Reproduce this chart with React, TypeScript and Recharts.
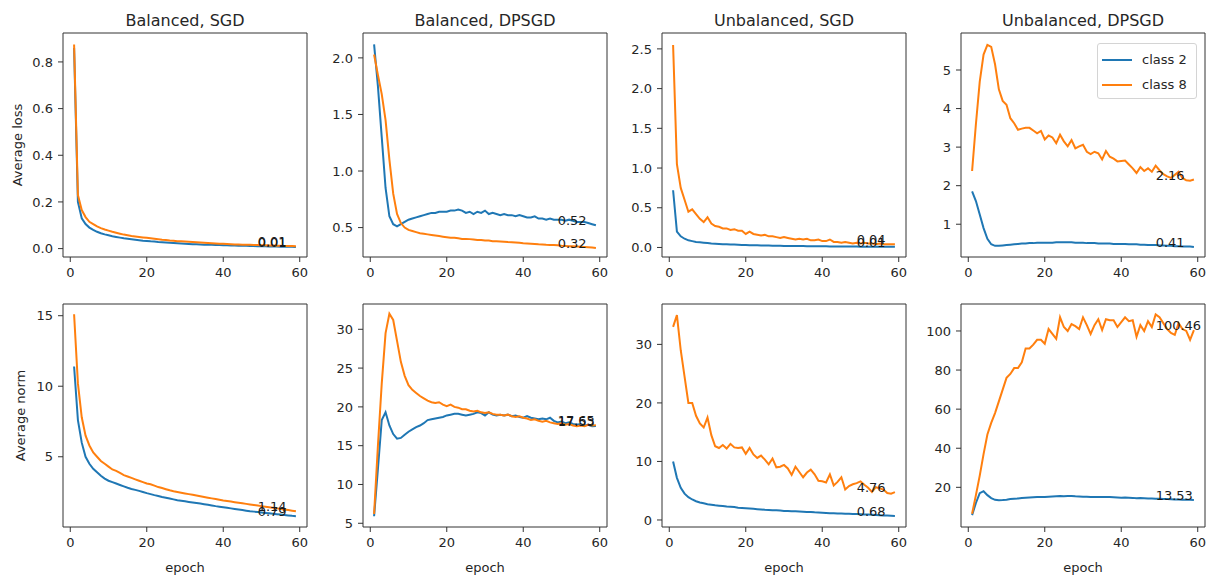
import React from 'react';
import { ComposedChart, Line, XAxis, YAxis, ReferenceArea, ReferenceDot, Legend } from 'recharts';

// epochs 1..59 on the x axis
const epochs = Array.from({ length: 59 }, (_, i) => i + 1);
const xTicks = [0, 20, 40, 60];

// ---- Average loss ----
const lossBalSgd2 = [0.86, 0.2, 0.13, 0.105, 0.09, 0.08, 0.072, 0.066, 0.061, 0.057,
  0.053, 0.05, 0.047, 0.044, 0.042, 0.04, 0.038, 0.036, 0.034, 0.033,
  0.031, 0.03, 0.028, 0.027, 0.026, 0.025, 0.024, 0.023, 0.022, 0.021,
  0.02, 0.019, 0.019, 0.018, 0.017, 0.017, 0.016, 0.015, 0.015, 0.014,
  0.014, 0.013, 0.013, 0.012, 0.012, 0.012, 0.011, 0.011, 0.01, 0.01,
  0.01, 0.009, 0.009, 0.009, 0.008, 0.008, 0.008, 0.008, 0.007];
const lossBalSgd8 = [0.875, 0.23, 0.165, 0.135, 0.115, 0.105, 0.095, 0.088, 0.082, 0.077,
  0.072, 0.068, 0.064, 0.06, 0.057, 0.054, 0.052, 0.05, 0.048, 0.046,
  0.044, 0.042, 0.04, 0.038, 0.037, 0.035, 0.034, 0.032, 0.031, 0.03,
  0.029, 0.028, 0.027, 0.026, 0.025, 0.024, 0.023, 0.022, 0.021, 0.021,
  0.02, 0.019, 0.018, 0.018, 0.017, 0.016, 0.016, 0.015, 0.015, 0.014,
  0.014, 0.013, 0.013, 0.012, 0.012, 0.011, 0.011, 0.011, 0.01];

const lossBalDp2 = [2.12, 1.75, 1.3, 0.85, 0.6, 0.53, 0.51, 0.53, 0.55, 0.57,
  0.58, 0.59, 0.6, 0.61, 0.62, 0.63, 0.63, 0.64, 0.64, 0.64,
  0.65, 0.65, 0.66, 0.65, 0.63, 0.64, 0.62, 0.64, 0.63, 0.65,
  0.62, 0.63, 0.62, 0.61, 0.62, 0.61, 0.61, 0.6, 0.61, 0.6,
  0.59, 0.59, 0.6, 0.58, 0.58, 0.57, 0.58, 0.57, 0.57, 0.57,
  0.56, 0.57, 0.56, 0.55, 0.55, 0.55, 0.54, 0.53, 0.52];
const lossBalDp8 = [2.03, 1.85, 1.68, 1.45, 1.1, 0.8, 0.62, 0.54, 0.5, 0.48,
  0.47, 0.46, 0.45, 0.445, 0.44, 0.435, 0.43, 0.425, 0.42, 0.415,
  0.41, 0.41, 0.405, 0.4, 0.4, 0.398, 0.395, 0.39, 0.39, 0.385,
  0.385, 0.38, 0.38, 0.378, 0.375, 0.372, 0.37, 0.368, 0.365, 0.362,
  0.36, 0.358, 0.355, 0.352, 0.35, 0.348, 0.347, 0.345, 0.343, 0.34,
  0.338, 0.336, 0.334, 0.332, 0.33, 0.328, 0.326, 0.323, 0.32];

const lossUnbSgd2 = [0.72, 0.2, 0.14, 0.11, 0.09, 0.08, 0.07, 0.065, 0.06, 0.055,
  0.05, 0.048, 0.045, 0.042, 0.04, 0.038, 0.036, 0.034, 0.032, 0.03,
  0.029, 0.028, 0.027, 0.026, 0.025, 0.024, 0.023, 0.022, 0.021, 0.02,
  0.02, 0.019, 0.018, 0.018, 0.017, 0.016, 0.016, 0.015, 0.015, 0.014,
  0.014, 0.013, 0.013, 0.012, 0.012, 0.012, 0.011, 0.011, 0.011, 0.01,
  0.01, 0.01, 0.01, 0.01, 0.009, 0.009, 0.009, 0.009, 0.008];
const lossUnbSgd8 = [2.55, 1.05, 0.75, 0.6, 0.45, 0.48, 0.42, 0.36, 0.32, 0.38,
  0.3, 0.27, 0.26, 0.24, 0.24, 0.22, 0.23, 0.21, 0.21, 0.17,
  0.2, 0.17, 0.16, 0.15, 0.16, 0.14, 0.14, 0.13, 0.12, 0.13,
  0.12, 0.11, 0.1, 0.11, 0.1, 0.11, 0.09, 0.09, 0.1, 0.08,
  0.08, 0.1, 0.07, 0.07, 0.06, 0.07, 0.06, 0.05, 0.06, 0.05,
  0.06, 0.05, 0.05, 0.04, 0.05, 0.04, 0.04, 0.04, 0.04];

const lossUnbDp2 = [1.85, 1.6, 1.25, 0.9, 0.62, 0.48, 0.44, 0.44, 0.45, 0.46,
  0.47, 0.48, 0.49, 0.5, 0.5, 0.51, 0.51, 0.52, 0.52, 0.52,
  0.52, 0.52, 0.53, 0.53, 0.53, 0.53, 0.53, 0.52, 0.52, 0.52,
  0.51, 0.51, 0.51, 0.5, 0.5, 0.5, 0.5, 0.49, 0.49, 0.49,
  0.49, 0.48, 0.48, 0.48, 0.47, 0.47, 0.46, 0.46, 0.46, 0.45,
  0.45, 0.44, 0.44, 0.43, 0.43, 0.42, 0.42, 0.42, 0.41];
const lossUnbDp8 = [2.38, 3.6, 4.7, 5.4, 5.65, 5.6, 5.15, 4.5, 4.2, 4.1,
  3.75, 3.62, 3.45, 3.48, 3.5, 3.5, 3.43, 3.36, 3.42, 3.2,
  3.3, 3.25, 3.1, 3.32, 3.15, 3.02, 3.18, 2.97, 3.02, 3.06,
  2.88, 2.82, 2.88, 2.84, 2.68, 2.9, 2.75, 2.7, 2.63, 2.64,
  2.65, 2.55, 2.45, 2.33, 2.48, 2.38, 2.45, 2.36, 2.52, 2.4,
  2.3, 2.24, 2.2, 2.28, 2.36, 2.2, 2.14, 2.13, 2.16];

// ---- Average norm ----
const normBalSgd2 = [11.4, 7.6, 6.0, 5.0, 4.5, 4.15, 3.9, 3.65, 3.45, 3.3,
  3.2, 3.1, 3.0, 2.9, 2.8, 2.72, 2.65, 2.58, 2.5, 2.42,
  2.35, 2.28, 2.22, 2.15, 2.1, 2.04, 1.98, 1.92, 1.88, 1.84,
  1.8, 1.76, 1.72, 1.68, 1.64, 1.6, 1.55, 1.5, 1.46, 1.42,
  1.38, 1.34, 1.3, 1.26, 1.22, 1.18, 1.14, 1.11, 1.08, 1.05,
  1.02, 0.99, 0.96, 0.93, 0.9, 0.87, 0.84, 0.81, 0.79];
const normBalSgd8 = [15.1, 10.2, 7.8, 6.5, 5.8, 5.3, 5.0, 4.7, 4.5, 4.3,
  4.1, 4.0, 3.85, 3.7, 3.6, 3.5, 3.4, 3.3, 3.2, 3.1,
  3.05, 2.95, 2.85, 2.78, 2.7, 2.62, 2.55, 2.5, 2.45, 2.4,
  2.35, 2.3, 2.25, 2.2, 2.15, 2.1, 2.05, 2.0, 1.95, 1.9,
  1.86, 1.82, 1.78, 1.74, 1.7, 1.66, 1.62, 1.58, 1.54, 1.5,
  1.46, 1.42, 1.38, 1.34, 1.3, 1.26, 1.22, 1.18, 1.14];

const normBalDp2 = [5.9, 12, 18.3, 19.3, 17.6, 16.5, 15.9, 16.0, 16.4, 16.8,
  17.1, 17.4, 17.6, 17.9, 18.3, 18.4, 18.5, 18.6, 18.7, 18.9,
  19.0, 19.1, 19.1, 19.0, 18.9, 19.0, 19.1, 19.3, 19.2, 18.9,
  19.3, 19.0, 18.9, 19.0, 18.9, 19.0, 18.8, 18.9, 18.7, 18.6,
  18.8, 18.6, 18.5, 18.4, 18.5, 18.4, 18.6, 18.2, 18.0, 18.1,
  17.9, 18.0, 17.8, 17.7, 17.8, 17.6, 17.7, 17.5, 17.53];
const normBalDp8 = [6.2, 15, 23, 29.5, 32, 31.2, 28.5, 25.8, 24, 22.8,
  22.2, 21.8, 21.4, 21.1, 20.8, 20.6, 20.5, 20.6, 20.3, 20.1,
  20.3, 20.0, 19.9, 19.7, 19.7, 19.5, 19.4, 19.5, 19.3, 19.2,
  19.3, 19.1, 19.0, 19.0, 18.9, 19.0, 18.8, 18.7, 18.8, 18.6,
  18.5, 18.3, 18.4, 18.2, 18.1, 18.2, 18.0, 17.9, 17.8, 17.9,
  17.7, 17.8, 17.6, 17.5, 17.6, 17.5, 17.7, 17.6, 17.65];

const normUnbSgd2 = [10, 7.2, 5.5, 4.5, 3.9, 3.5, 3.2, 3.0, 2.85, 2.7,
  2.6, 2.5, 2.45, 2.4, 2.3, 2.25, 2.2, 2.1, 2.05, 2.0,
  1.95, 1.9, 1.85, 1.8, 1.75, 1.72, 1.68, 1.65, 1.6, 1.55,
  1.52, 1.5, 1.47, 1.43, 1.4, 1.38, 1.35, 1.3, 1.27, 1.24,
  1.2, 1.17, 1.15, 1.12, 1.1, 1.07, 1.05, 1.02, 1.0, 0.97,
  0.94, 0.92, 0.88, 0.85, 0.82, 0.78, 0.75, 0.72, 0.68];
const normUnbSgd8 = [33, 35, 29, 24.5, 20, 20, 17.8, 16.5, 15.8, 17.5,
  14.5, 12.6, 12.3, 12.8, 12.2, 13, 12.4, 12.3, 12.4, 11.3,
  12.3, 11.2, 10.6, 11, 10.3, 9.5, 10.5, 9.0, 9.1, 9.4,
  8.8, 7.7, 9.1, 8.2, 7.3, 8.1, 8.6, 7.8, 6.7, 6.6,
  6.4, 7.8, 5.9, 6.5, 7.3, 5.2, 5.8, 6.1, 6.3, 6.6,
  6.0, 5.5, 4.8, 5.6, 5.4, 5.2, 4.6, 4.5, 4.76];

const normUnbDp2 = [5.8, 12, 17, 18, 16, 14.5, 13.6, 13.4, 13.5, 13.7,
  14.0, 14.2, 14.3, 14.5, 14.7, 14.8, 14.9, 15.0, 15.0, 15.1,
  15.2, 15.3, 15.4, 15.5, 15.4, 15.5, 15.6, 15.4, 15.3, 15.2,
  15.2, 15.1, 15.0, 15.0, 15.1, 15.1, 15.0, 14.9, 14.8, 14.7,
  14.8, 14.7, 14.6, 14.4, 14.5, 14.4, 14.3, 14.3, 14.2, 14.1,
  14.0, 14.0, 13.9, 13.8, 13.8, 13.7, 13.6, 13.6, 13.53];
const normUnbDp8 = [6.5, 16, 26, 37, 47, 53, 58, 64, 70, 76,
  78, 81, 81, 84, 91, 91, 93, 95.5, 95.5, 93.5,
  101, 98.5, 96, 107, 102, 100, 103.5, 102.5, 101, 107,
  103, 98.5, 103, 106, 100.5, 106, 105.5, 105.5, 102, 104.5,
  107, 105, 105.5, 97, 103, 100, 105, 102, 108.5, 107,
  104, 101, 99, 98, 104, 101, 100, 95.5, 100.46];

const BLUE = '#1f77b4';
const ORANGE = '#ff7f0e';
const INK = '#262626';

const COL_X = [63, 363, 662, 961];
const ROW_Y = [33, 304];
const BOX_W = 244;
const BOX_H = [224, 223];
const YW = 60;
const MT = 5;
const MR = 5;
const XH = 48;
const X_DOMAIN: [number, number] = [-1.9, 61.9];

const oneDec = (v: number) => v.toFixed(1);
const plain = (v: number) => String(v);

const panels = [
  { row: 0, col: 0, title: 'Balanced, SGD', c2: lossBalSgd2, c8: lossBalSgd8, domain: [-0.036, 0.924], ticks: [0, 0.2, 0.4, 0.6, 0.8], fmt: oneDec, ylabel: 'Average loss', yOff: 14.5 },
  { row: 0, col: 1, title: 'Balanced, DPSGD', c2: lossBalDp2, c8: lossBalDp8, domain: [0.24, 2.22], ticks: [0.5, 1.0, 1.5, 2.0], fmt: oneDec },
  { row: 0, col: 2, title: 'Unbalanced, SGD', c2: lossUnbSgd2, c8: lossUnbSgd8, domain: [-0.12, 2.7], ticks: [0, 0.5, 1.0, 1.5, 2.0, 2.5], fmt: oneDec },
  { row: 0, col: 3, title: 'Unbalanced, DPSGD', c2: lossUnbDp2, c8: lossUnbDp8, domain: [0.15, 5.96], ticks: [1, 2, 3, 4, 5], fmt: plain, legend: true },
  { row: 1, col: 0, c2: normBalSgd2, c8: normBalSgd8, domain: [0.02, 15.83], ticks: [5, 10, 15], fmt: plain, ylabel: 'Average norm', yOff: 17, xlabel: true },
  { row: 1, col: 1, c2: normBalDp2, c8: normBalDp8, domain: [4.52, 33.26], ticks: [5, 10, 15, 20, 25, 30], fmt: plain, xlabel: true },
  { row: 1, col: 2, c2: normUnbSgd2, c8: normUnbSgd8, domain: [-1.2, 36.9], ticks: [0, 10, 20, 30], fmt: plain, xlabel: true },
  { row: 1, col: 3, c2: normUnbDp2, c8: normUnbDp8, domain: [-0.3, 113.8], ticks: [20, 40, 60, 80, 100], fmt: plain, xlabel: true },
];

const LegendBox = ({ payload }: any) => (
  <div style={{ boxSizing: 'border-box', width: 100, height: 56, border: '1px solid #d4d4d4', borderRadius: 3, background: 'rgba(255,255,255,0.85)', paddingTop: 3 }}>
    {(payload || []).map((p: any) => (
      <div key={p.value} style={{ display: 'flex', alignItems: 'center', height: 25 }}>
        <span style={{ display: 'inline-block', marginLeft: 4, width: 30, height: 2, background: p.color }} />
        <span style={{ marginLeft: 10, fontSize: 13, color: INK }}>{p.value}</span>
      </div>
    ))}
  </div>
);

const endLabel = (txt: string) => (props: any) => (
  <text x={props.cx} y={props.cy} fontSize={13} fill="#1a1a1a">{txt}</text>
);

function Panel({ p }: { p: any }) {
  const data = epochs.map((e, i) => ({ epoch: e, c2: p.c2[i], c8: p.c8[i] }));
  const boxH = BOX_H[p.row];
  const last2 = p.c2[p.c2.length - 1];
  const last8 = p.c8[p.c8.length - 1];
  return (
    <>
      {p.title && (
        <div style={{ position: 'absolute', left: COL_X[p.col], top: 12.5, width: BOX_W, textAlign: 'center', fontSize: 16, lineHeight: '16px', color: INK }}>
          {p.title}
        </div>
      )}
      <div style={{ position: 'absolute', left: COL_X[p.col] - YW, top: ROW_Y[p.row] - MT }}>
        <ComposedChart width={YW + BOX_W + MR} height={MT + boxH + XH} data={data} margin={{ top: MT, right: MR, bottom: 0, left: 0 }}>
          <XAxis
            type="number" dataKey="epoch" domain={X_DOMAIN} ticks={xTicks} allowDataOverflow interval={0}
            axisLine={false} tickSize={5} tickMargin={6} tickLine={{ stroke: '#333' }}
            tick={{ fontSize: 13, fill: INK }} height={XH}
            label={p.xlabel ? { value: 'epoch', position: 'insideBottom', offset: 3, style: { fontSize: 13, fill: INK } } : undefined}
          />
          <YAxis
            type="number" domain={p.domain} ticks={p.ticks} allowDataOverflow interval={0}
            axisLine={false} tickSize={5} tickMargin={5} tickLine={{ stroke: '#333' }}
            tickFormatter={p.fmt} tick={{ fontSize: 13, fill: INK }} width={YW}
            label={p.ylabel ? { value: p.ylabel, angle: -90, position: 'insideLeft', offset: p.yOff, style: { textAnchor: 'middle', fontSize: 13, fill: INK } } : undefined}
          />
          <ReferenceArea x1={X_DOMAIN[0]} x2={X_DOMAIN[1]} y1={p.domain[0]} y2={p.domain[1]} fill="none" fillOpacity={0} stroke="#333" strokeWidth={1} ifOverflow="visible" />
          <Line type="linear" dataKey="c2" name="class 2" stroke={BLUE} strokeWidth={2} dot={false} isAnimationActive={false} />
          <Line type="linear" dataKey="c8" name="class 8" stroke={ORANGE} strokeWidth={2} dot={false} isAnimationActive={false} />
          <ReferenceDot x={49} y={last2} r={0} shape={endLabel(last2.toFixed(2))} />
          <ReferenceDot x={49} y={last8} r={0} shape={endLabel(last8.toFixed(2))} />
          {p.legend && (
            <Legend layout="vertical" align="center" verticalAlign="middle" content={<LegendBox />}
              wrapperStyle={{ left: 196, top: 15, width: 100, height: 56 }} />
          )}
        </ComposedChart>
      </div>
    </>
  );
}

export default function App() {
  return (
    <div style={{ position: 'absolute', left: 0, top: 0, width: 1220, height: 577, background: '#fff', fontFamily: '"DejaVu Sans", sans-serif' }}>
      {panels.map((p, i) => <Panel key={i} p={p} />)}
    </div>
  );
}
